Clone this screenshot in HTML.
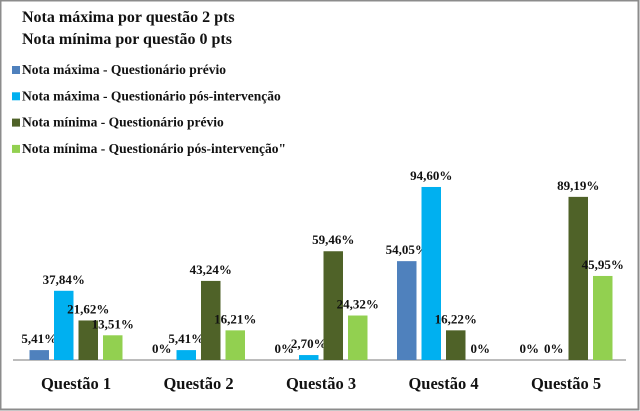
<!DOCTYPE html>
<html><head><meta charset="utf-8"><style>
html,body{margin:0;padding:0;background:#fff}
svg{display:block}
text{font-family:"Liberation Serif",serif;font-weight:bold;fill:#111}
</style></head><body>
<svg width="640" height="411" viewBox="0 0 640 411">
<rect x="0.5" y="0.5" width="638" height="409" fill="#fff" stroke="#8c8c8c" stroke-width="2"/>
<text x="22" y="22" font-size="16">Nota máxima por questão 2 pts</text>
<text x="22" y="44" font-size="16">Nota mínima  por questão 0 pts</text>
<g id="legend"></g>
<line x1="13" y1="360" x2="626" y2="360" stroke="#a6a6a6" stroke-width="1.5"/>
<g id="bars"></g>
</svg>
<script>
const categories=["Questão 1","Questão 2","Questão 3","Questão 4","Questão 5"];
const seriesNames=["Nota máxima - Questionário prévio","Nota máxima - Questionário pós-intervenção","Nota mínima - Questionário prévio","Nota mínima - Questionário pós-intervenção\""];
const maxPrev=[5.41,0,0,54.05,0];
const maxPos=[37.84,5.41,2.70,94.60,0];
const minPrev=[21.62,43.24,59.46,16.22,89.19];
const minPos=[13.51,16.21,24.32,0,45.95];
const colors=["#4f81bd","#00b0f0","#4f6228","#92d050"];
const NS="http://www.w3.org/2000/svg";
const series=[maxPrev,maxPos,minPrev,minPos];
const base=360, pxPer=1.829, step=122.5, c0=76, bw=19.5, bstep=24.5;
function xC(i){return c0+i*step;}
function yV(v){return base-v*pxPer;}
function fmt(v){return v===0?"0%":v.toFixed(2).replace('.',',')+"%";}
const lg=document.getElementById('legend');
seriesNames.forEach((n,k)=>{
 const y=74+k*26.3;
 const r=document.createElementNS(NS,'rect');
 r.setAttribute('x',12);r.setAttribute('y',y-8);r.setAttribute('width',8);r.setAttribute('height',8);r.setAttribute('fill',colors[k]);
 
 
 lg.appendChild(r);
 const t=document.createElementNS(NS,'text');
 t.setAttribute('x',22);t.setAttribute('y',y);t.setAttribute('font-size','13.5');t.textContent=n;
 
 
 lg.appendChild(t);
});
const g=document.getElementById('bars');
categories.forEach((c,i)=>{
 const t=document.createElementNS(NS,'text');
 t.setAttribute('x',xC(i));t.setAttribute('y',389);t.setAttribute('font-size','16.5');t.setAttribute('text-anchor','middle');t.textContent=c;
 
 
 g.appendChild(t);
 series.forEach((s,k)=>{
  const v=s[i];
  const x=xC(i)-2*bstep+(bstep-bw)/2+k*bstep;
  const y=yV(v);
  if(v>0){
   const r=document.createElementNS(NS,'rect');
   r.setAttribute('x',x);r.setAttribute('y',y);r.setAttribute('width',bw);r.setAttribute('height',base-y);r.setAttribute('fill',colors[k]);
   
   
   g.appendChild(r);
  }
  const l=document.createElementNS(NS,'text');
  l.setAttribute('x',x+bw/2);l.setAttribute('y',v>0?y-7:base-7);l.setAttribute('font-size','13');l.setAttribute('text-anchor','middle');l.textContent=fmt(v);
  
  
  g.appendChild(l);
 });
});
</script>
</body></html>
